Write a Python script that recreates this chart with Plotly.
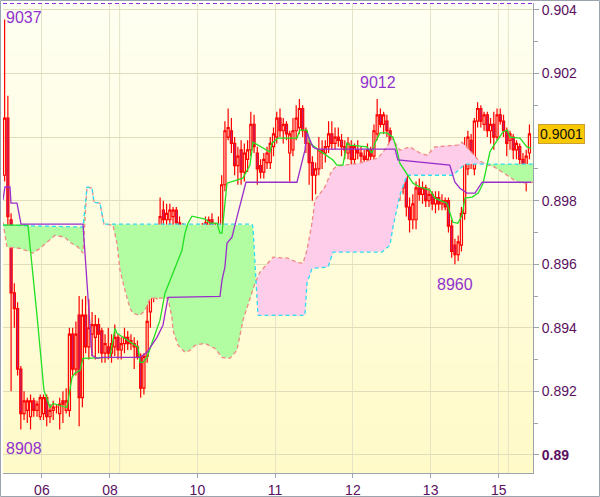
import numpy as np
import plotly.graph_objects as go

# ---------------- data (prices in pips, 1 pip = 0.0001) ----------------
open_pips = [8988,9006,8974,8951,8946,8927,8913,8914,8912,8917,8914,8912,8913,8918,8912,8914,8915,8913,8917,8914,
             8914,8938,8927,8944,8918,8944,8934,8938,8937,8941,8939,8932,8934,8932,8934,8937,8933,8935,8937,8935,
             8935,8934,8931,8921,8931,8945,8952,8955,8959,8977,8974,8974,8975,8977,8973,8972,8969,8970,8969,8970,
             8969,8970,8971,8972,8974,8972,8967,8970,8985,9000,9002,8998,8991,8996,8989,8993,8996,9004,8995,8991,
             8989,8992,8992,8997,9000,9006,9002,9004,8995,8996,9002,9003,9009,9002,8998,8992,8988,8990,8996,8995,
             8997,9001,8998,9000,8999,8997,8995,8997,8993,8996,8995,8994,8993,8996,8994,9001,9007,9004,9005,9002,
             8989,8985,8989,8984,8990,8978,8974,8974,8984,8982,8984,8980,8982,8979,8981,8979,8980,8980,8972,8966,
             8963,8966,8976,8990,8999,8990,9005,9009,9004,9007,9002,9004,9000,9007,9005,9002,8999,9000,8996,8997,
             8993,8990,8995]
high_pips = [9037,9013,8976,8954,8948,8928,8920,8918,8919,8918,8917,8919,8919,8919,8916,8917,8916,8918,8920,8921,
             8940,8940,8942,8950,8949,8950,8949,8945,8944,8943,8940,8938,8940,8938,8941,8938,8937,8940,8939,8938,
             8937,8936,8932,8932,8948,8955,8963,8962,8981,8980,8979,8979,8978,8978,8975,8973,8972,8972,8971,8971,
             8972,8973,8975,8975,8976,8973,8975,8988,9005,9009,9006,9000,8997,8999,8998,8999,9008,9007,8997,8993,
             8995,8997,9000,9003,9008,9009,9006,9005,9002,9006,9010,9012,9010,9003,8999,8994,8992,9000,8999,8999,
             9005,9005,9003,9003,9001,8999,9000,8999,8998,8999,8997,8996,8998,8997,9004,9012,9009,9008,9007,9003,
             8993,8990,8992,8992,8991,8981,8982,8986,8987,8986,8985,8984,8983,8983,8983,8982,8981,8981,8974,8968,
             8969,8978,9000,9002,9001,9006,9011,9010,9008,9008,9006,9008,9009,9009,9007,9003,9002,9001,8999,8998,
             8995,8996,9004]
low_pips = [8986,8972,8920,8940,8925,8908,8911,8910,8908,8912,8912,8911,8911,8909,8910,8911,8913,8908,8910,8913,
            8912,8925,8925,8909,8915,8932,8930,8931,8930,8932,8929,8929,8930,8929,8931,8930,8930,8932,8933,8933,
            8927,8930,8918,8919,8929,8940,8948,8949,8957,8972,8970,8972,8972,8971,8970,8968,8965,8966,8967,8968,
            8967,8968,8969,8970,8968,8963,8963,8964,8983,8999,8995,8988,8985,8985,8986,8989,8994,8995,8985,8987,
            8987,8990,8990,8994,8998,9000,8998,8999,8986,8994,8999,9001,9000,8995,8985,8980,8982,8988,8990,8992,
            8995,8996,8996,8997,8994,8993,8993,8991,8991,8993,8992,8990,8991,8992,8992,8999,9003,9001,9000,8986,
            8978,8980,8980,8982,8975,8970,8971,8971,8980,8979,8978,8978,8977,8976,8977,8977,8977,8970,8962,8960,
            8961,8964,8974,8988,8990,8988,9003,9003,9002,9000,8998,8996,8999,9004,9000,8994,8996,8993,8993,8991,
            8988,8983,8993]
close_pips = [9006,8975,8951,8946,8927,8913,8917,8917,8917,8914,8916,8918,8918,8912,8914,8915,8915,8916,8916,8917,
              8938,8927,8938,8918,8944,8934,8940,8941,8941,8938,8932,8935,8932,8935,8937,8933,8935,8937,8935,8936,
              8934,8931,8921,8931,8942,8952,8956,8961,8975,8974,8976,8977,8977,8973,8971,8969,8970,8969,8970,8969,
              8970,8972,8973,8974,8971,8967,8972,8985,9002,9003,8998,8991,8994,8989,8995,8996,9004,8997,8990,8989,
              8993,8995,8998,9001,9006,9002,9004,9001,9001,9002,9006,9009,9002,8998,8992,8988,8990,8996,8995,8997,
              9001,8998,9000,8999,8997,8996,8998,8993,8997,8995,8994,8993,8996,8994,9002,9007,9004,9007,9002,8989,
              8985,8988,8984,8990,8978,8974,8979,8984,8982,8984,8980,8982,8979,8981,8979,8980,8978,8972,8964,8963,
              8967,8976,8995,9000,8992,9005,9009,9005,9007,9002,9004,9000,9007,9005,9002,8998,9001,8996,8998,8993,
              8990,8994,9001]

# Ichimoku lines: (candle index, pips)
tenkan_x = [-0.5,7.2,9.99,12.15,14.0,14.93,19.25,20.8,21.72,23.27,24.19,32.52,34.07,34.69,36.54,39.62,41.17,41.78,42.71,43.94,
            45.79,47.96,49.5,51.97,54.75,55.67,56.6,57.84,61.85,63.4,65.55,66.48,67.1,68.64,69.56,73.57,75.73,76.66,81.9,82.52,
            84.38,90.24,91.17,93.33,94.25,97.0,101.35,102.58,104.43,105.67,106.6,111.8,113.39,114.31,115.86,118.0,119.88,121.1,122.0,124.5,
            126.04,128.2,131.3,132.83,134.4,136.5,138.4,139.9,141.2,142.1,144.3,146.2,147.7,149.2,149.8,150.7,152.9,153.8,155.1,156.0,
            159.1,161.2,162.5]
tenkan_y = [8972.3,8972.3,8943.9,8920.3,8914.9,8916.2,8914.9,8924.4,8925.7,8926.6,8930.4,8930.7,8939.8,8938.3,8937.0,8935.1,8933.9,8929.1,8929.1,8930.7,
            8936.1,8942.4,8950.9,8957.2,8964.4,8969.8,8972.9,8975.1,8974.2,8972.9,8972.9,8969.8,8969.8,8985.5,8985.8,8987.1,8991.2,8998.4,8995.3,8998.1,
            8999.7,8999.7,9002.2,9002.2,8998.1,8995.9,8992.8,8991.2,8991.2,8998.1,8997.5,8996.9,8995.0,8998.1,9001.3,9001.3,9000.0,8995.9,8991.8,8988.0,
            8985.5,8984.3,8983.3,8980.8,8980.2,8979.2,8973.2,8972.9,8975.4,8980.8,8981.1,8982.4,8985.5,8991.8,8995.3,8996.9,9000.0,9001.6,9002.2,9000.0,
            8999.7,8996.9,8996.5]

kijun_x = [-0.5,0.1,1.66,1.97,3.82,5.06,24.19,26.97,28.5,30.05,41.78,43.94,47.03,48.88,50.43,66.48,67.1,68.0,68.64,70.18,
           71.72,72.65,74.5,90.24,92.7,93.33,95.18,96.4,120.5,121.4,137.4,139.0,140.55,142.7,145.2,147.4,162.5]
kijun_y = [8980.2,8984.3,8984.3,8979.2,8979.2,8972.6,8972.6,8931.3,8930.4,8930.7,8930.7,8932.3,8937.0,8940.8,8949.6,8949.9,8955.0,8959.1,8966.6,8968.5,
           8974.8,8978.6,8985.8,8985.8,8995.9,9001.3,8996.9,8996.2,8996.2,8992.8,8991.2,8985.8,8983.9,8982.4,8982.4,8985.8,8985.8]

spana_x = [-0.5,24.19,25.43,26.97,27.59,29.44,30.67,76.35,76.66,77.27,78.2,92.7,93.33,94.87,99.81,101.35,116.48,118.95,119.88,122.0,
           124.19,138.4,140.55,142.1,163.1]
spana_y = [8972.3,8971.7,8984.3,8983.9,8979.5,8979.2,8972.6,8972.6,8971.7,8959.1,8943.9,8943.9,8954.0,8958.7,8959.1,8963.8,8963.8,8966.0,8971.7,8981.7,
           8988.0,8988.0,8990.2,8991.5,8991.5]

spanb_x = [-0.5,0.73,4.75,7.83,8.76,10.92,14.6,15.55,18.6,20.18,22.65,24.19,25.43,26.97,27.59,29.44,30.67,33.45,34.69,35.61,
           37.15,38.7,39.62,41.78,43.33,44.87,50.43,51.66,51.97,53.51,55.67,57.22,58.77,61.85,64.94,67.1,69.56,71.72,73.57,75.73,
           77.27,78.82,82.83,87.46,90.24,92.1,93.33,94.87,95.8,98.88,101.04,102.58,105.67,109.7,112.77,115.24,116.79,118.0,119.57,122.0,
           125.1,128.2,130.4,131.9,132.83,139.9,141.2,143.0,146.2,148.9,150.7,156.0,158.1,161.5,163.1]
spanb_y = [8973.2,8965.4,8965.0,8963.8,8963.5,8965.0,8968.2,8969.1,8968.5,8966.9,8965.4,8963.5,8984.3,8983.9,8979.5,8979.2,8972.6,8972.3,8966.6,8958.1,
           8951.8,8946.1,8944.6,8943.9,8945.5,8949.3,8949.3,8943.3,8939.2,8934.5,8932.3,8932.9,8934.5,8935.1,8933.5,8930.7,8930.4,8932.9,8942.4,8949.3,
           8954.0,8957.5,8962.2,8961.9,8960.6,8960.3,8964.4,8972.9,8980.2,8984.3,8989.6,8990.9,8991.2,8991.8,8992.8,8993.4,8995.3,8996.9,8999.7,8995.9,
           8996.9,8995.0,8994.3,8995.9,8996.9,8997.5,8998.4,8996.5,8992.8,8991.2,8990.9,8987.4,8985.8,8985.5,8985.8]

day_ticks = [11.5, 32.5, 59.5, 83.5, 107.5, 131.5, 152.5]
day_labels = ["06", "08", "10", "11", "12", "13", "15"]
extra_day_lines = [35.5, 155.5]

price_ticks = [0.890, 0.892, 0.894, 0.896, 0.898, 0.900, 0.902, 0.904]
price_labels = ["<b>0.89</b>", "0.892", "0.894", "0.896", "0.898", "", "0.902", "0.904"]
minor_ticks = [0.891, 0.893, 0.895, 0.897, 0.899, 0.901, 0.903]
last_price = 0.9001

marks = [("9037", -0.2, 0.90375, "left"), ("9012", 115.2, 0.90173, "center"),
         ("8960", 139.0, 0.89537, "center"), ("8908", -0.1, 0.89020, "left")]

# ---------------- build ----------------
S = 1e-4
O = [v * S for v in open_pips]
H = [v * S for v in high_pips]
L = [v * S for v in low_pips]
C = [v * S for v in close_pips]
idx = list(range(len(O)))

grid = np.linspace(-0.5, 163.1, 2000)
A = np.interp(grid, spana_x, np.array(spana_y) * S)
B = np.interp(grid, spanb_x, np.array(spanb_y) * S)
upper = np.maximum(A, B)

fig = go.Figure()
# green cloud (A above B)
fig.add_trace(go.Scatter(x=grid, y=B, mode="lines", line=dict(width=0), hoverinfo="skip"))
fig.add_trace(go.Scatter(x=grid, y=upper, mode="lines", line=dict(width=0), fill="tonexty",
                         fillcolor="#b2fca2", hoverinfo="skip"))
# pink cloud (B above A)
fig.add_trace(go.Scatter(x=grid, y=A, mode="lines", line=dict(width=0), hoverinfo="skip"))
fig.add_trace(go.Scatter(x=grid, y=upper, mode="lines", line=dict(width=0), fill="tonexty",
                         fillcolor="#fdcdea", hoverinfo="skip"))
# cloud borders
fig.add_trace(go.Scatter(x=spanb_x, y=[v * S for v in spanb_y], mode="lines",
                         line=dict(color="#f08a84", width=1.3, dash="4px,3px")))
fig.add_trace(go.Scatter(x=spana_x, y=[v * S for v in spana_y], mode="lines",
                         line=dict(color="#30dcf0", width=1.3, dash="4px,3px")))
# candles
fig.add_trace(go.Candlestick(x=idx, open=O, high=H, low=L, close=C,
                             increasing=dict(line=dict(color="#ff0000", width=1.2), fillcolor="rgba(0,0,0,0)"),
                             decreasing=dict(line=dict(color="#ff0000", width=1.2), fillcolor="#b0288a"),
                             whiskerwidth=0))
# tenkan / kijun
fig.add_trace(go.Scatter(x=tenkan_x, y=[v * S for v in tenkan_y], mode="lines",
                         line=dict(color="#22e022", width=1.3)))
fig.add_trace(go.Scatter(x=kijun_x, y=[v * S for v in kijun_y], mode="lines",
                         line=dict(color="#9a2ecb", width=1.3)))

# background gradient bands (plot area)
shapes = []
nb = 47
for k in range(nb):
    t = k / (nb - 1)
    r, g, b = 255, int(round(255 - 5 * t)), int(round(242 - 42 * t))
    shapes.append(dict(type="rect", xref="paper", yref="paper", x0=0, x1=1,
                       y0=1 - (k + 1) / nb, y1=1 - k / nb, layer="below",
                       line=dict(width=0), fillcolor=f"rgb({r},{g},{b})"))
for xv in extra_day_lines:
    shapes.append(dict(type="line", xref="x", yref="paper", x0=xv, x1=xv, y0=0, y1=1,
                       layer="below", line=dict(color="#e6e4c6", width=1)))
# dashed line at top
shapes.append(dict(type="line", xref="paper", yref="paper", x0=0, x1=1, y0=0.999, y1=0.999,
                   line=dict(color="#8a2be2", width=1, dash="4px,3px")))
# outer frame
W, Hh = 600, 497
pl, pr, pt, pb = 3, 67, 3, 24
pw, ph = W - pl - pr, Hh - pt - pb
shapes.append(dict(type="rect", xref="paper", yref="paper",
                   x0=(0.5 - pl) / pw, x1=(W - 0.5 - pl) / pw,
                   y0=-(pb - 0.5) / ph, y1=(ph + pt - 0.5) / ph,
                   line=dict(color="#9ba4ad", width=1)))

annotations = []
for txt, xv, yv, anc in marks:
    annotations.append(dict(x=xv, y=yv, xref="x", yref="y", text=txt, showarrow=False,
                            xanchor=anc, yanchor="middle",
                            font=dict(family="Liberation Sans, Arial", size=16, color="#9033cc")))
annotations.append(dict(x=1 + 5 / pw, y=last_price, xref="paper", yref="y", text="0.9001",
                        showarrow=False, xanchor="left", yanchor="middle",
                        bgcolor="#f8c800", bordercolor="#c9a030", borderwidth=1, borderpad=1,
                        font=dict(family="Liberation Sans, Arial", size=14, color="#111111")))

fig.update_layout(
    template="none",
    width=W, height=Hh,
    margin=dict(l=pl, r=pr, t=pt, b=pb, pad=0, autoexpand=False),
    paper_bgcolor="white", plot_bgcolor="#fffde8",
    showlegend=False, hovermode=False, boxgap=0.08,
    shapes=shapes, annotations=annotations,
    font=dict(family="Liberation Sans, Arial", size=14, color="#5a1060"),
    xaxis=dict(range=[-0.5, 163.1], tickmode="array", tickvals=day_ticks, ticktext=day_labels,
               automargin=False,
               showgrid=True, gridcolor="#e6e4c6", gridwidth=1, zeroline=False,
               ticks="outside", ticklen=4, tickcolor="#9ba4ad",
               showline=True, linecolor="#9ba4ad", linewidth=1,
               rangeslider=dict(visible=False), fixedrange=True,
               tickfont=dict(size=14, color="#5a1060")),
    yaxis=dict(range=[0.88943, 0.90422], side="right", tickmode="array",
               tickvals=price_ticks, ticktext=price_labels, automargin=False,
               showgrid=True, gridcolor="#e0ddba", gridwidth=1, zeroline=False,
               ticks="outside", ticklen=5, tickcolor="#9ba4ad",
               minor=dict(tickmode="array", tickvals=minor_ticks, ticks="outside", ticklen=4,
                          tickcolor="#9ba4ad", showgrid=False),
               showline=True, linecolor="#9ba4ad", linewidth=1,
               tickfont=dict(size=14, color="#5a1060"), fixedrange=True),
)

fig.write_html("out.html", config={"displayModeBar": False},
               post_script="document.body.style.margin='0px';document.body.style.overflow='hidden';")
